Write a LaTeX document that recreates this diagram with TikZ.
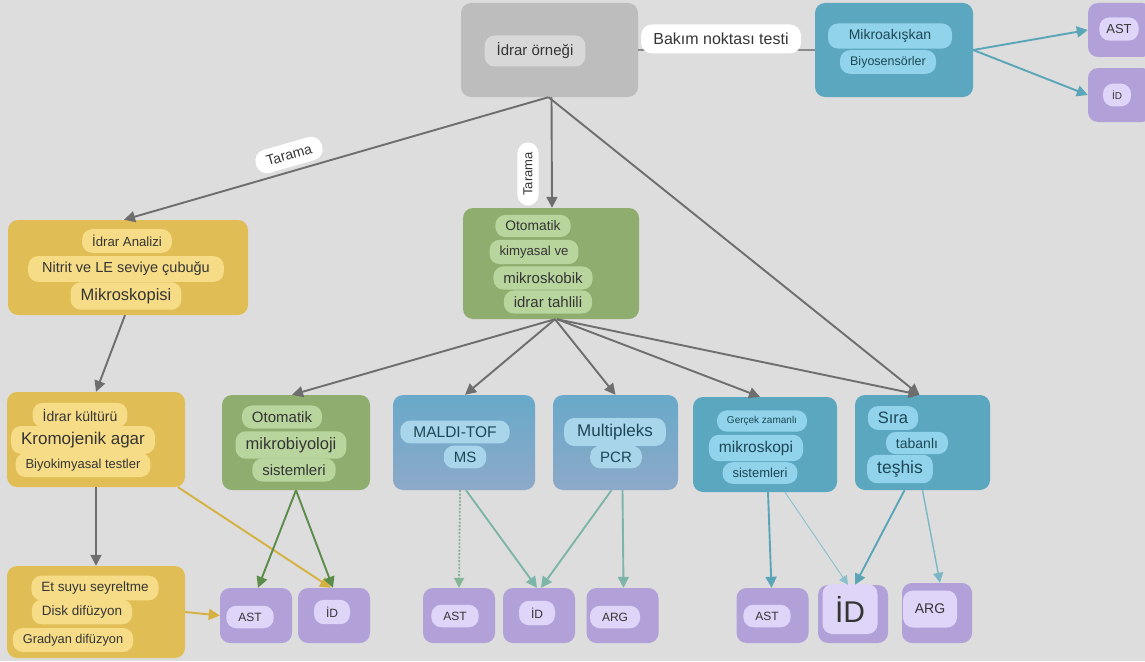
\documentclass[tikz,border=0pt]{standalone}
\usepackage{fontspec}
\setmainfont{Liberation Sans}
\usetikzlibrary{arrows.meta}
\definecolor{bg}{HTML}{DDDDDD}
\definecolor{greybox}{HTML}{BDBDBD}
\definecolor{greypill}{HTML}{D8D8D8}
\definecolor{ybox}{HTML}{E1BE55}
\definecolor{ypillc}{HTML}{F6DC86}
\definecolor{gbox}{HTML}{8EAD6E}
\definecolor{gpillc}{HTML}{B9D59E}
\definecolor{tbox}{HTML}{5BA7BF}
\definecolor{tpillc}{HTML}{90D3EA}
\definecolor{btop}{HTML}{68A9C9}
\definecolor{bbot}{HTML}{8DA9C9}
\definecolor{bpillc}{HTML}{A8D5EA}
\definecolor{pbox}{HTML}{B1A1D8}
\definecolor{ppillc}{HTML}{DFD5F8}
\definecolor{txt}{HTML}{353535}
\definecolor{ttxt}{HTML}{1E4756}
\definecolor{garrow}{HTML}{6E6E6E}
\definecolor{yarrow}{HTML}{D6B13F}
\definecolor{grarrow}{HTML}{5B8C4A}
\definecolor{tarrow}{HTML}{5AA5B8}
\definecolor{larrow}{HTML}{7DB5A8}
\definecolor{dotc}{HTML}{86B496}
\newcommand\myfs[1]{\fontsize{#1}{#1}\selectfont}
\begin{document}
\begin{tikzpicture}[x=1pt,y=-1pt,
  boxs/.style={rounded corners=10pt, inner sep=0pt},
  greyb/.style={boxs, fill=greybox},
  yb/.style={boxs, fill=ybox},
  gb/.style={boxs, fill=gbox},
  tb/.style={boxs, fill=tbox},
  bb/.style={boxs, top color=btop, bottom color=bbot},
  pb/.style={boxs, fill=pbox, minimum width=72pt, minimum height=55pt},
  pill/.style={rounded corners=10pt, inner xsep=10pt, inner ysep=6pt, text=txt},
  greyp/.style={pill, fill=greypill},
  yp/.style={pill, fill=ypillc},
  gp/.style={pill, fill=gpillc},
  tp/.style={pill, fill=tpillc, text=ttxt},
  bp/.style={pill, fill=bpillc, text=ttxt},
  pp/.style={pill, fill=ppillc, text=txt, inner xsep=12pt, inner ysep=7pt},
  lab/.style={rounded corners=11pt, fill=white, text=txt, inner xsep=11pt, inner ysep=7pt},
  conn/.style={line width=1.9pt, -{Triangle[width=11pt,length=11pt]}},
  gc/.style={conn, draw=garrow},
  yc/.style={conn, draw=yarrow},
  grc/.style={conn, draw=grarrow},
  tc/.style={conn, draw=tarrow},
  lc/.style={conn, draw=larrow}
]
\fill[bg] (0,0) rectangle (1145,661);
\useasboundingbox (0,0) rectangle (1145,661);

% ---------- boxes ----------
\node[greyb, minimum width=177pt, minimum height=94pt] (orn) at (549.5,50) {};
\node[tb, minimum width=158pt, minimum height=94pt] (mikro) at (894,50) {};
\node[pb, minimum width=64pt, minimum height=54pt] (ast0) at (1120,30) {};
\node[pb, minimum width=64pt, minimum height=54pt] (id0) at (1120,95) {};
\node[yb, minimum width=240pt, minimum height=95pt] (analiz) at (128,267.5) {};
\node[gb, minimum width=176pt, minimum height=111pt] (otokim) at (551,263.5) {};
\node[yb, minimum width=178pt, minimum height=95pt] (kultur) at (96,439.5) {};
\node[gb, minimum width=148pt, minimum height=95pt] (otomik) at (296,442.5) {};
\node[bb, minimum width=142pt, minimum height=95pt] (maldi) at (464,442.5) {};
\node[bb, minimum width=125pt, minimum height=95pt] (multi) at (615.5,442.5) {};
\node[tb, minimum width=144pt, minimum height=95pt] (gercek) at (765,444.5) {};
\node[tb, minimum width=135pt, minimum height=95pt] (sira) at (922.5,442.5) {};
\node[yb, minimum width=178pt, minimum height=92pt] (etsuyu) at (96,612) {};
\node[pb] (ast1) at (256,615.5) {};
\node[pb] (id1) at (334,615.5) {};
\node[pb] (ast2) at (459,615.5) {};
\node[pb] (id2) at (539,615.5) {};
\node[pb] (arg2) at (622.5,615.5) {};
\node[pb] (ast3) at (772.5,615.5) {};
\node[pb, minimum width=70pt, minimum height=58pt] (id3) at (853,614) {};
\node[pb, minimum width=70pt, minimum height=60pt] (arg3) at (937,613) {};

% ---------- pills / texts ----------
\node[greyp, minimum height=31pt, inner xsep=12pt] (tOrn) at (535,51) {\myfs{15}İdrar örneği};
\node[tp, minimum width=124pt] (tMik1) at (890,36) {\myfs{14}Mikroakışkan};
\node[tp, minimum width=96pt] (tMik2) at (888,62) {\myfs{12.5}Biyosensörler};
\node[pp, inner xsep=7pt] (tAst0) at (1119,29) {\myfs{13}AST};
\node[pp, inner xsep=9pt] (tId0) at (1117,95) {\myfs{10}İD};

\node[yp] (tAn1) at (127,241) {\myfs{13.2}İdrar Analizi};
\node[yp, inner xsep=14pt] (tAn2) at (126,269) {\myfs{14.5}Nitrit ve LE seviye çubuğu};
\node[yp] (tAn3) at (126,296) {\myfs{16.5}Mikroskopisi};

\node[gp] (tOk1) at (533,226) {\myfs{13.8}Otomatik};
\node[gp] (tOk2) at (534,252) {\myfs{13.2}kimyasal ve};
\node[gp] (tOk3) at (543,278) {\myfs{15}mikroskobik};
\node[gp] (tOk4) at (548,302) {\myfs{15}idrar tahlili};

\node[yp] (tKu1) at (80,415) {\myfs{14}İdrar kültürü};
\node[yp] (tKu2) at (83,440) {\myfs{17}Kromojenik agar};
\node[yp] (tKu3) at (83,465) {\myfs{13}Biyokimyasal testler};

\node[gp] (tOm1) at (282,417) {\myfs{15}Otomatik};
\node[gp] (tOm2) at (291,445) {\myfs{16.5}mikrobiyoloji};
\node[gp] (tOm3) at (294,470) {\myfs{15}sistemleri};

\node[bp, inner xsep=13pt] (tMa1) at (455,432) {\myfs{15.5}MALDI-TOF};
\node[bp] (tMa2) at (465,457) {\myfs{15}MS};
\node[bp, inner xsep=13pt] (tMu1) at (615,432) {\myfs{17}Multipleks};
\node[bp] (tMu2) at (616,457) {\myfs{15}PCR};

\node[tp] (tGe1) at (762,421) {\myfs{10}Gerçek zamanlı};
\node[tp] (tGe2) at (756,448) {\myfs{15.5}mikroskopi};
\node[tp] (tGe3) at (760,473) {\myfs{13}sistemleri};

\node[tp] (tSi1) at (893,418) {\myfs{16.5}Sıra};
\node[tp] (tSi2) at (917,443) {\myfs{14}tabanlı};
\node[tp] (tSi3) at (900,469) {\myfs{17.5}teşhis};

\node[yp] (tEt1) at (95,588) {\myfs{13.5}Et suyu seyreltme};
\node[yp] (tEt2) at (82,612) {\myfs{13.5}Disk difüzyon};
\node[yp] (tEt3) at (73,640) {\myfs{12.8}Gradyan difüzyon};

\node[pp] (tAst1) at (250,617) {\myfs{12}AST};
\node[pp] (tId1) at (332,612) {\myfs{12}İD};
\node[pp] (tAst2) at (455,616) {\myfs{12}AST};
\node[pp] (tId2) at (537,613) {\myfs{12}İD};
\node[pp] (tArg2) at (615,617) {\myfs{12}ARG};
\node[pp] (tAst3) at (767,616) {\myfs{12}AST};
\node[pp, minimum width=55pt, minimum height=50pt, inner sep=2pt] (tId3) at (850,609) {\myfs{30}İD};
\node[pp, minimum width=54pt, minimum height=37pt, inner sep=2pt] (tArg3) at (930,609) {\myfs{14}ARG};

% ---------- connectors ----------
\draw[line width=1.4pt, draw=garrow!80] (orn.east) -- (mikro.west);
\draw[gc] ([xshift=-1pt]orn.south) -- ([xshift=-4pt]analiz.north);
\draw[gc] ([xshift=2pt]orn.south) -- ([xshift=1pt]otokim.north);
\draw[gc] ([xshift=-1pt]orn.south) -- ([xshift=-3pt]sira.north);

\draw[gc] ([xshift=4pt]otokim.south) -- ([xshift=-4pt]otomik.north);
\draw[gc] ([xshift=4pt]otokim.south) -- ([xshift=1pt]maldi.north);
\draw[gc] ([xshift=4pt]otokim.south) -- (multi.north);
\draw[gc] ([xshift=6pt]otokim.south) -- ([xshift=-5pt]gercek.north);
\draw[gc] ([xshift=6pt]otokim.south) -- ([xshift=-3pt]sira.north);

\draw[gc] ([xshift=-3pt]analiz.south) -- (kultur.north);
\draw[gc] (kultur.south) -- (etsuyu.north);
\draw[yc] ([xshift=82pt]kultur.south) -- ([xshift=-3pt]id1.north);
\draw[yc] (etsuyu.east) -- (ast1.west);

\draw[grc] (otomik.south) -- ([xshift=2pt]ast1.north);
\draw[grc] (otomik.south) -- ([xshift=-1pt]id1.north);

\draw[line width=1.8pt, draw=dotc, dash pattern=on 2pt off 1.5pt, -{Triangle[width=10pt,length=10pt]}] ([xshift=-4pt]maldi.south) -- (ast2.north);
\draw[lc] ([xshift=2pt]maldi.south) -- ([xshift=-2pt]id2.north);
\draw[lc] ([xshift=-4pt]multi.south) -- ([xshift=2pt]id2.north);
\draw[lc] ([xshift=7pt]multi.south) -- ([xshift=1pt]arg2.north);

\draw[tc] ([xshift=3pt]gercek.south) -- ([xshift=-1pt]ast3.north);
\draw[line width=0.9pt, draw=tarrow!70, -{Triangle[width=9pt,length=9pt]}] ([xshift=20pt]gercek.south) -- ([xshift=-5pt]id3.north);
\draw[tc] ([xshift=-18pt]sira.south) -- ([xshift=2pt]id3.north);
\draw[line width=1.4pt, draw=tarrow!80, -{Triangle[width=10pt,length=10pt]}] ([xshift=0pt]sira.south) -- ([xshift=3pt]arg3.north);

\draw[tc] (mikro.east) -- (ast0.west);
\draw[tc] (mikro.east) -- (id0.west);

% ---------- labels ----------
\node[lab, minimum width=160pt, minimum height=29pt, inner ysep=4pt] (lBakim) at (721,39) {\myfs{16}Bakım noktası testi};
\node[lab, rotate=16] (lTar1) at (289,155) {\myfs{14}Tarama};
\node[lab, rotate=90, inner xsep=10pt, inner ysep=6pt] (lTar2) at (528,174) {\myfs{13}Tarama};
\end{tikzpicture}
\end{document}
